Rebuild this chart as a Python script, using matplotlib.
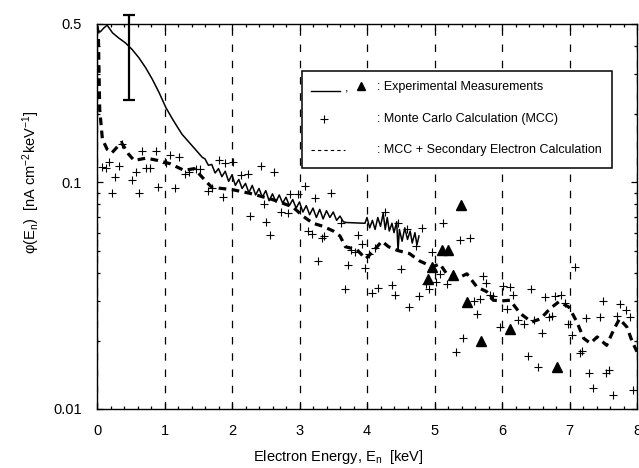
import matplotlib
matplotlib.use('Agg')
import matplotlib.pyplot as plt
from matplotlib.patches import Rectangle
from matplotlib.ticker import FixedLocator, LogLocator, NullFormatter, MultipleLocator

plt.rcParams['font.family'] = ['Liberation Sans', 'DejaVu Sans']
plt.rcParams['mathtext.fontset'] = 'custom'
plt.rcParams['mathtext.rm'] = 'Liberation Sans'
plt.rcParams['mathtext.it'] = 'Liberation Sans'

# Experimental spectrum (solid line)
exp_x = [0.00, 0.05, 0.10, 0.15, 0.23, 0.32, 0.42, 0.52, 0.62, 0.72, 0.82, 0.92,
         1.02, 1.12, 1.21, 1.26, 1.41, 1.56,
         1.60, 1.65, 1.70, 1.75, 1.80, 1.85, 1.90, 1.95, 2.00, 2.05, 2.10, 2.15,
         2.20, 2.25, 2.30, 2.35, 2.40, 2.45, 2.50, 2.55, 2.60, 2.65, 2.70, 2.75,
         2.80, 2.85, 2.90, 2.95, 3.00, 3.05, 3.10, 3.15, 3.20, 3.25, 3.30, 3.35,
         3.40, 3.45, 3.50, 3.55, 3.60, 3.65, 3.70, 3.97,
         4.00, 4.04, 4.08, 4.12, 4.16, 4.20, 4.24, 4.27, 4.30, 4.33, 4.37, 4.40,
         4.44, 4.46, 4.48, 4.52, 4.56, 4.60, 4.64, 4.67, 4.71, 4.74, 4.77]
exp_y = [0.470, 0.462, 0.480, 0.494, 0.457, 0.434, 0.413, 0.386, 0.355, 0.321, 0.285, 0.249,
         0.214, 0.190, 0.172, 0.163, 0.145, 0.129,
         0.127, 0.119, 0.120, 0.110, 0.115, 0.106, 0.112, 0.101, 0.108, 0.097, 0.103, 0.094,
         0.099, 0.090, 0.097, 0.088, 0.094, 0.086, 0.092, 0.083, 0.089, 0.082, 0.088, 0.081,
         0.086, 0.079, 0.084, 0.077, 0.082, 0.074, 0.079, 0.072, 0.077, 0.070, 0.076, 0.069,
         0.075, 0.070, 0.074, 0.068, 0.071, 0.067, 0.0665, 0.066,
         0.070, 0.063, 0.068, 0.062, 0.070, 0.064, 0.073, 0.062, 0.070, 0.061, 0.066, 0.060,
         0.067, 0.050, 0.062, 0.055, 0.063, 0.056, 0.061, 0.054, 0.060, 0.053, 0.058]

# Experimental points (triangles)
tri_x = [5.39, 5.11, 5.20, 4.96, 4.91, 5.28, 5.48, 5.69, 6.12, 6.81]
tri_y = [0.0796, 0.0501, 0.0501, 0.0425, 0.0376, 0.0389, 0.0296, 0.0199, 0.0226, 0.0153]

# Monte Carlo calculation (plus markers)
mcc_x = [0.08, 0.13, 0.175, 0.32, 0.26, 0.215, 0.52, 0.58, 0.62, 0.73, 0.78, 0.66, 0.37,
         0.88, 0.91, 1.08, 1.02, 1.16, 1.22, 1.31, 1.37, 1.46, 1.52, 1.64, 1.70, 1.81,
         1.89, 1.87, 2.01, 2.13, 2.23, 2.43, 2.62, 2.47, 2.27, 2.51, 2.57, 2.73, 2.83,
         2.86, 2.98, 3.08, 3.23, 3.47, 3.13, 3.18, 3.33, 3.37, 3.62, 3.28, 3.72, 3.87,
         3.92, 3.77, 3.82, 3.97, 4.03, 4.12, 4.27, 4.46, 4.59, 4.82, 4.51, 4.62, 4.77,
         4.73, 3.67, 4.07, 4.17, 4.37, 4.42, 4.87, 4.92, 5.02, 4.96, 5.13, 5.08, 5.18,
         5.38, 5.53, 5.42, 5.32, 5.58, 5.68, 5.63, 5.72, 5.77, 5.82, 5.87, 6.02, 6.12,
         6.17, 6.43, 6.07, 5.97, 6.23, 6.33, 6.64, 6.78, 6.88, 6.93, 6.47, 6.59, 6.69,
         6.74, 6.98, 7.04, 7.08, 7.25, 7.45, 7.50, 7.70, 7.75, 7.84, 7.90, 6.38, 6.53,
         7.15, 7.19, 7.29, 7.54, 7.58, 7.35, 7.64, 7.94]
mcc_y = [0.117, 0.116, 0.123, 0.118, 0.106, 0.090, 0.102, 0.111, 0.090, 0.116, 0.116, 0.138, 0.148,
         0.138, 0.0957, 0.132, 0.122, 0.094, 0.130, 0.109, 0.111, 0.114, 0.114, 0.092, 0.094, 0.125,
         0.122, 0.0865, 0.123, 0.108, 0.109, 0.118, 0.111, 0.0806, 0.0714, 0.0671, 0.0583, 0.0739, 0.0735,
         0.0892, 0.0892, 0.096, 0.0856, 0.0901, 0.0610, 0.0589, 0.057, 0.058, 0.066, 0.0452, 0.0432, 0.0583,
         0.0536, 0.0501, 0.0491, 0.0419, 0.0484, 0.0514, 0.0739, 0.0660, 0.0624, 0.0632, 0.0415, 0.0281, 0.0316,
         0.0524, 0.0337, 0.0325, 0.0342, 0.0351, 0.0320, 0.0355, 0.0337, 0.0363, 0.0491, 0.0660, 0.0395, 0.0357,
         0.0558, 0.0569, 0.0205, 0.0178, 0.0299, 0.0307, 0.0262, 0.0385, 0.0360, 0.0320, 0.0316, 0.0348, 0.0345,
         0.0320, 0.0337, 0.0275, 0.0230, 0.0246, 0.0236, 0.0312, 0.0315, 0.0318, 0.0294, 0.0246, 0.0217, 0.0255,
         0.0256, 0.0236, 0.0213, 0.0423, 0.0251, 0.0255, 0.0300, 0.0258, 0.0290, 0.0273, 0.0255, 0.0171, 0.0154,
         0.0176, 0.0181, 0.0144, 0.0144, 0.0148, 0.0124, 0.0115, 0.0121]

# MCC + secondary electron calculation (thick dashed line)
sec_x = [0.00, 0.02, 0.04, 0.08, 0.15, 0.22, 0.36, 0.47, 0.55, 0.73, 0.90, 1.08, 1.29, 1.44,
         1.59, 1.70, 2.00, 2.30, 2.60, 2.90, 3.05, 3.20, 3.35, 3.50, 3.60, 3.68, 3.85, 3.98,
         4.10, 4.22, 4.32, 4.46, 4.63, 4.78, 4.97, 5.08, 5.18, 5.33, 5.48, 5.63, 5.77, 5.87,
         6.00, 6.12, 6.27, 6.44, 6.57, 6.71, 6.84, 6.99, 7.11, 7.21, 7.31, 7.41, 7.55, 7.65,
         7.74, 7.85, 7.93, 8.00]
sec_y = [0.49, 0.45, 0.21, 0.155, 0.140, 0.135, 0.150, 0.133, 0.125, 0.128, 0.125, 0.121, 0.113, 0.115,
         0.103, 0.095, 0.093, 0.089, 0.084, 0.078, 0.071, 0.066, 0.064, 0.061, 0.058, 0.052, 0.0505, 0.046,
         0.050, 0.055, 0.052, 0.050, 0.0485, 0.045, 0.0424, 0.0437, 0.0395, 0.0376, 0.0395, 0.0345, 0.033, 0.0302,
         0.030, 0.0302, 0.0264, 0.0242, 0.025, 0.0277, 0.0297, 0.0282, 0.0242, 0.0205, 0.0195, 0.0208, 0.0191, 0.0222,
         0.025, 0.023, 0.0198, 0.0179]

# error bar on the experimental curve
err_x = 0.48
err_low = 0.230
err_high = 0.547

fig = plt.figure(figsize=(6.39, 4.68), dpi=100)
ax = fig.add_axes([97 / 639, 1 - 409 / 468, 540 / 639, 385 / 468])

ax.plot(exp_x, exp_y, color='black', lw=1.1, zorder=3)
ax.plot(sec_x, sec_y, color='black', lw=2.3, dashes=(2.4, 1.7), zorder=3)
ax.plot(mcc_x, mcc_y, ls='none', marker='+', ms=5.5, mew=0.8, color='black', zorder=4)
ax.plot(tri_x, tri_y, ls='none', marker='^', ms=6.5, color='black', zorder=4)
ax.vlines(err_x, err_low, err_high, color='black', lw=1.6, clip_on=False, zorder=5)
ax.hlines([err_low, err_high], err_x - 0.09, err_x + 0.09, color='black', lw=1.6,
          clip_on=False, zorder=5)

ax.set_yscale('log')
ax.set_xlim(0, 8)
ax.set_ylim(0.01, 0.5)

ax.xaxis.set_major_locator(MultipleLocator(1))
ax.xaxis.set_minor_locator(MultipleLocator(0.2))
ax.yaxis.set_major_locator(FixedLocator([0.01, 0.1, 0.5]))
ax.yaxis.set_minor_locator(LogLocator(base=10, subs=[2, 3, 4, 5, 6, 7, 8, 9]))
ax.yaxis.set_minor_formatter(NullFormatter())
ax.set_yticklabels(['0.01', '0.1', '0.5'])

ax.tick_params(which='both', direction='in', top=True, right=True, labelsize=10.5,
               width=0.9, color='black')
ax.tick_params(which='major', length=4.5, pad=11)
ax.tick_params(which='minor', length=2.5)
for s in ax.spines.values():
    s.set_linewidth(1.0)

ax.grid(axis='x', which='major', color='black', lw=0.9, linestyle=(0, (6, 7)))

ax.set_xlabel('Electron Energy, E$_\\mathregular{n}$  [keV]', fontsize=10.5)
ax.xaxis.set_label_coords(0.446, -0.100)
ax.set_ylabel('φ(E$_\\mathregular{n}$)  [nA cm$^\\mathregular{-2}$keV$^\\mathregular{-1}$]',
              fontsize=10.5)
ax.yaxis.set_label_coords(-0.102, 0.59)

# legend drawn by hand to keep the colon layout
ax.add_patch(Rectangle((0.380, 0.626), 0.574, 0.252, transform=ax.transAxes,
                       facecolor='white', edgecolor='black', lw=1.1, zorder=6))
fs = 9
ax.plot([0.397, 0.450], [0.826, 0.826], transform=ax.transAxes, color='black', lw=1.0, zorder=7)
ax.text(0.463, 0.832, ',', transform=ax.transAxes, fontsize=fs, ha='center', va='center', zorder=7)
ax.plot([0.488], [0.839], transform=ax.transAxes, marker='^', ms=6, color='black', zorder=7)
ax.plot([0.421], [0.752], transform=ax.transAxes, marker='+', ms=5.5, mew=0.8, color='black', zorder=7)
ax.plot([0.397, 0.459], [0.672, 0.672], transform=ax.transAxes, color='black', lw=0.8,
        dashes=(3, 2.8), zorder=7)
labels = [': Experimental Measurements', ': Monte Carlo Calculation (MCC)',
          ': MCC + Secondary Electron Calculation']
for yy, lab in zip([0.837, 0.752, 0.672], labels):
    ax.text(0.519, yy, lab, transform=ax.transAxes, fontsize=fs, ha='left', va='center', zorder=7)

fig.savefig('out.png', dpi=100)
